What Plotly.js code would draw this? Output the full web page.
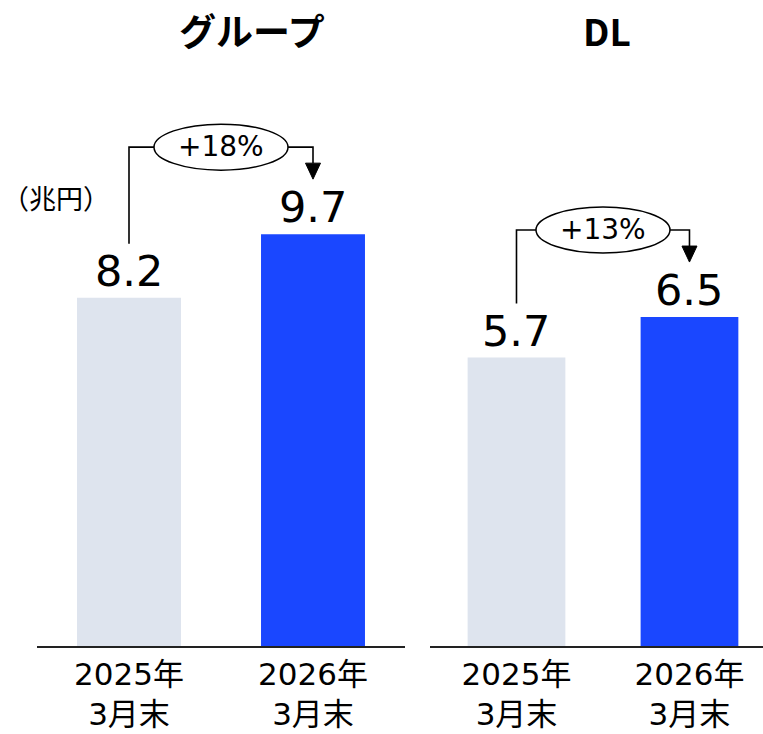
<!DOCTYPE html>
<html>
<head>
<meta charset="utf-8">
<script src="https://cdn.plot.ly/plotly-3.0.1.min.js"></script>
<style>html,body{margin:0;padding:0;background:#fff;}#chart{width:763px;height:734px;}</style>
</head>
<body>
<div id="chart"></div>
<script>
// ---- data ----
const categories = ["2025年<br>3月末", "2026年<br>3月末"];
const groupValues = [8.2, 9.7];
const dlValues = [5.7, 6.5];
const panelTitles = ["グループ", "DL"];
const growthLabels = ["+18%", "+13%"];
const unitLabel = "（兆円）";
const barColors = ["#DEE4EE", "#1A47FF"];

// ---- layout geometry ----
const W = 763, H = 734;
const yDom = [0.1199, 0.8638];
const plotPx = (yDom[1] - yDom[0]) * H;
const yMaxL = 12.86, yMaxR = 10.79;
const xRangeL = [-0.5, 1.5], xRangeR = [-0.5, 1.425];
const xDomL = [37 / W, 405 / W], xDomR = [430 / W, 1];
const NUMFONT = "DejaVu Sans, Noto Sans CJK JP, sans-serif";
const JPFONT = "Noto Sans CJK JP, sans-serif";

const traces = [
  {type: "bar", x: categories, y: groupValues, xaxis: "x", yaxis: "y",
   marker: {color: barColors}, width: 0.565, hoverinfo: "none", showlegend: false},
  {type: "bar", x: categories, y: dlValues, xaxis: "x2", yaxis: "y2",
   marker: {color: barColors}, width: 0.565, hoverinfo: "none", showlegend: false}
];

const shapes = [];
const annotations = [];

function addPanel(vals, xa, ya, yMax, xRange, xDom, label) {
  const pxPerUnit = plotPx / yMax;
  const pxPerCat = (xDom[1] - xDom[0]) * W / (xRange[1] - xRange[0]);
  const up = (v, px) => v + px / pxPerUnit;
  const yb = up(vals[0], 54), yt = up(vals[1], 87), ytip = up(vals[1], 55), ybase = up(vals[1], 71);
  const hw = 7.5 / pxPerCat;
  shapes.push({type: "path", xref: xa, yref: ya,
    path: `M 0,${yb} L 0,${yt} L 1,${yt} L 1,${ybase}`,
    line: {color: "#000", width: 1.6}});
  shapes.push({type: "path", xref: xa, yref: ya,
    path: `M ${1 - hw},${ybase} L ${1 + hw},${ybase} L 1,${ytip} Z`,
    fillcolor: "#000", line: {color: "#000", width: 1}});
  shapes.push({type: "circle", xref: xa, yref: ya,
    xsizemode: "pixel", xanchor: 0.5, x0: -67, x1: 67,
    ysizemode: "pixel", yanchor: yt, y0: -23, y1: 23,
    fillcolor: "#fff", line: {color: "#000", width: 1.5}});
  annotations.push({xref: xa, yref: ya, x: 0.5, y: yt, text: label, showarrow: false,
    xanchor: "center", yanchor: "middle",
    font: {family: NUMFONT, size: 28, color: "#000"}, yshift: 1});
  vals.forEach((v, i) => {
    annotations.push({xref: xa, yref: ya, x: i, y: v, text: v.toFixed(1), showarrow: false,
      xanchor: "center", yanchor: "bottom", yshift: 0, font: {family: NUMFONT, size: 43, color: "#000"}});
  });
}
addPanel(groupValues, "x", "y", yMaxL, xRangeL, xDomL, growthLabels[0]);
addPanel(dlValues, "x2", "y2", yMaxR, xRangeR, xDomR, growthLabels[1]);

annotations.push({xref: "paper", yref: "paper", x: 252 / W, y: 1 - 30 / H, text: "<b>" + panelTitles[0] + "</b>",
  xanchor: "center", yanchor: "middle", showarrow: false, font: {family: JPFONT, size: 37, color: "#000"}});
annotations.push({xref: "paper", yref: "paper", x: 607 / W, y: 1 - 30 / H, text: "<b>" + panelTitles[1] + "</b>",
  xanchor: "center", yanchor: "middle", showarrow: false, font: {family: JPFONT, size: 37, color: "#000"}});
annotations.push({xref: "paper", yref: "paper", x: 56 / W, y: 1 - 197 / H, text: unitLabel,
  xanchor: "center", yanchor: "middle", showarrow: false, font: {family: JPFONT, size: 27, color: "#000"}});

const xaxisCommon = {type: "category", showline: true, linecolor: "#222", linewidth: 2,
  showgrid: false, zeroline: false, ticks: "", automargin: false, fixedrange: true,
  ticklabelstandoff: 0,
  tickfont: {family: NUMFONT, size: 31, color: "#000"}};
const yaxisCommon = {visible: false, showgrid: false, zeroline: false, automargin: false, fixedrange: true};

const layout = {
  width: W, height: H,
  margin: {l: 0, r: 0, t: 0, b: 0},
  paper_bgcolor: "#fff", plot_bgcolor: "#fff",
  showlegend: false,
  xaxis: Object.assign({}, xaxisCommon, {domain: xDomL, range: xRangeL, anchor: "y"}),
  xaxis2: Object.assign({}, xaxisCommon, {domain: xDomR, range: xRangeR, anchor: "y2"}),
  yaxis: Object.assign({}, yaxisCommon, {domain: yDom, range: [0, yMaxL], anchor: "x"}),
  yaxis2: Object.assign({}, yaxisCommon, {domain: yDom, range: [0, yMaxR], anchor: "x2"}),
  shapes: shapes,
  annotations: annotations
};

Plotly.newPlot("chart", traces, layout, {displayModeBar: false, staticPlot: true});
</script>
</body>
</html>
